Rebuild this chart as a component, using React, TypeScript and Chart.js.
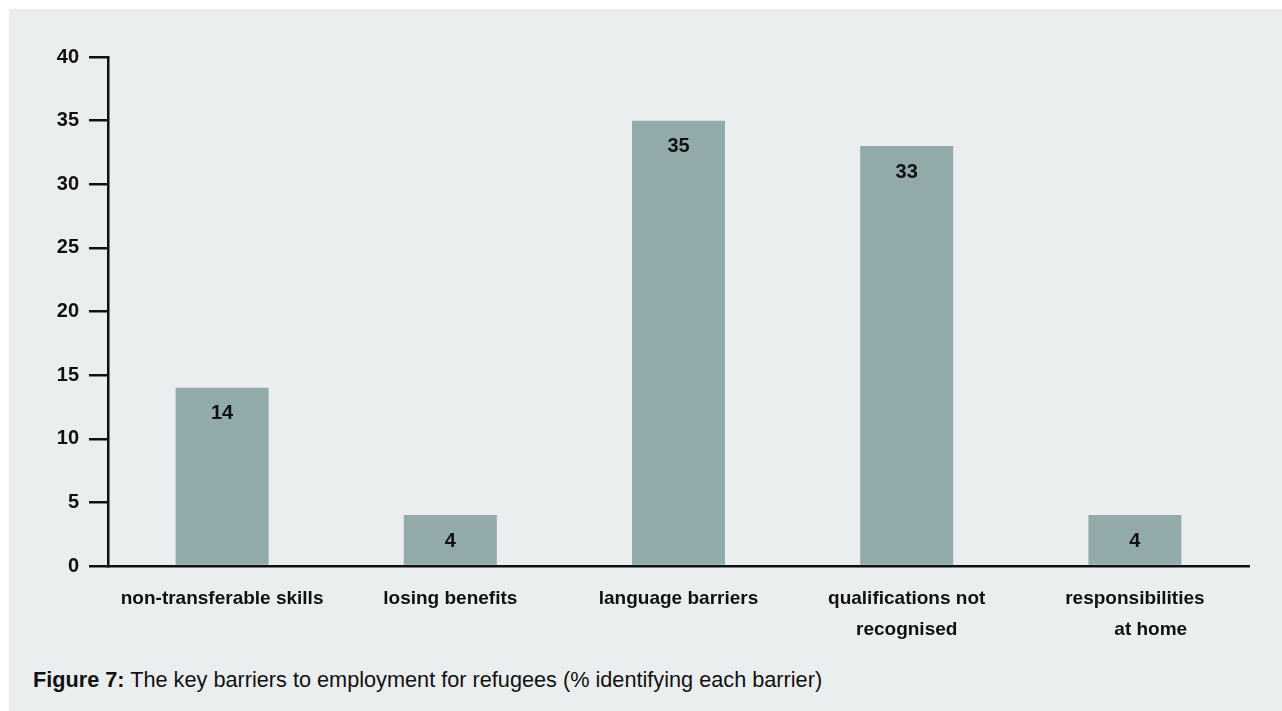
import React, { useEffect, useRef } from "react";
import { Chart, registerables } from "chart.js";

Chart.register(...registerables);

const categories: (string | string[])[] = [
  "non-transferable skills",
  "losing benefits",
  "language barriers",
  ["qualifications not", "recognised"],
  ["responsibilities", "      at home"],
];
const values: number[] = [14, 4, 35, 33, 4];
const yTicks: number[] = [0, 5, 10, 15, 20, 25, 30, 35, 40];
const captionBold = "Figure 7:";
const captionText = " The key barriers to employment for refugees (% identifying each barrier)";

const FONT = "'Liberation Sans', Arial, sans-serif";
const BG = "#EBEEEF";
const BAR = "#93AAAA";
const INK = "#111111";

const valueLabels = {
  id: "valueLabels",
  afterDatasetsDraw(chart: any) {
    const ctx = chart.ctx;
    const meta = chart.getDatasetMeta(0);
    ctx.save();
    ctx.font = `bold 20px ${FONT}`;
    ctx.fillStyle = INK;
    ctx.textAlign = "center";
    ctx.textBaseline = "middle";
    meta.data.forEach((el: any, i: number) => {
      ctx.fillText(String(values[i]), el.x, el.y + 26);
    });
    ctx.restore();
  },
};

export default function App() {
  const ref = useRef<HTMLCanvasElement | null>(null);
  useEffect(() => {
    if (!ref.current) return;
    const chart = new Chart(ref.current, {
      type: "bar",
      data: {
        labels: categories,
        datasets: [
          {
            data: values,
            backgroundColor: BAR,
            borderWidth: 0,
            barPercentage: 0.4075,
            categoryPercentage: 1,
          },
        ],
      },
      options: {
        animation: false,
        responsive: false,
        layout: { padding: { left: 0, right: 33, top: 48, bottom: 0 } },
        plugins: {
          legend: { display: false },
          tooltip: { enabled: false },
          title: { display: false },
        },
        scales: {
          x: {
            grid: { display: false, drawTicks: false },
            border: { display: true, color: INK, width: 2.5 },
            ticks: {
              color: INK,
              padding: 17,
              maxRotation: 0,
              autoSkip: false,
              font: { family: FONT, size: 19, weight: "bold", lineHeight: 1.63 },
            },
            afterFit: (s: any) => {
              s.height = 83;
            },
          },
          y: {
            min: 0,
            max: 40,
            afterBuildTicks: (s: any) => {
              s.ticks = yTicks.map((v) => ({ value: v }));
            },
            grid: {
              display: true,
              drawOnChartArea: false,
              drawTicks: true,
              tickLength: 19,
              color: INK,
              lineWidth: 2.5,
            },
            border: { display: true, color: INK, width: 2.5 },
            ticks: {
              color: INK,
              padding: 10,
              font: { family: FONT, size: 20, weight: "bold" },
            },
            afterFit: (s: any) => {
              s.width = 99;
            },
          },
        },
      },
      plugins: [valueLabels],
    });
    return () => chart.destroy();
  }, []);

  return (
    <div
      style={{
        position: "fixed",
        left: 9,
        top: 9,
        width: 1273,
        height: 702,
        background: BG,
        overflow: "hidden",
      }}
    >
      <canvas
        ref={ref}
        width={1273}
        height={640}
        style={{ position: "absolute", left: 0, top: 0, width: 1273, height: 640 }}
      />
      <div
        style={{
          position: "absolute",
          left: 24,
          top: 659,
          fontFamily: FONT,
          fontSize: 21.7,
          lineHeight: "24px",
          color: INK,
          whiteSpace: "nowrap",
        }}
      >
        <b>{captionBold}</b>
        {captionText}
      </div>
    </div>
  );
}
